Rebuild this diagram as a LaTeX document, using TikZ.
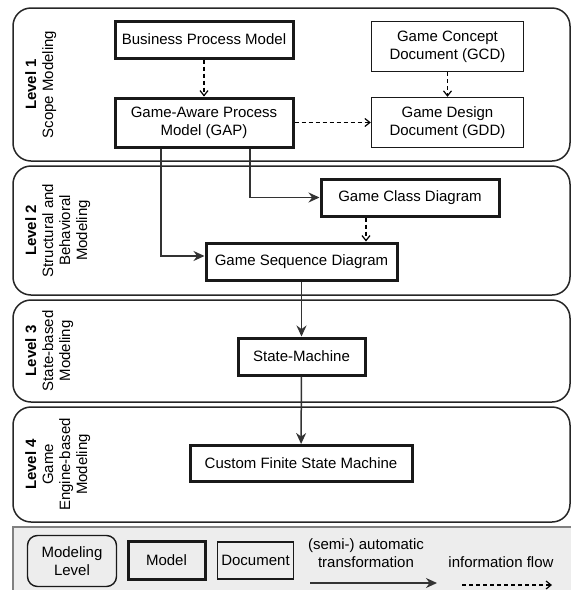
\documentclass[tikz,border=0pt]{standalone}
\usepackage{fontspec}
\setmainfont{Liberation Sans}
\usetikzlibrary{arrows.meta}
\tikzset{level/.style={draw=black!85, line width=1.5pt, rounded corners=18pt},
levellabel/.style={rotate=90, anchor=north, align=center, inner sep=0pt, font=\fontsize{15}{17}\selectfont},
model/.style={draw=black!90, line width=3pt, align=center, inner sep=0pt},
document/.style={draw=black!90, line width=1.4pt, align=center, inner sep=0pt},
trans/.style={draw=black!80, line width=1.5pt, -{Stealth[length=11pt,width=10pt]}},
info/.style={draw=black, line width=1.2pt, dash pattern=on 4pt off 3pt, -{Straight Barb[length=5pt,width=8pt]}},
legendbg/.style={fill=black!7, draw=black!50, line width=1.2pt}}

\begin{document}
\begin{tikzpicture}[x=1pt, y=-1pt, font=\fontsize{15}{18}\selectfont]
    \useasboundingbox (0,0) rectangle (571,590);

    % modeling levels
    \draw[level] (13,8) rectangle (570,161);
    \draw[level] (13,166) rectangle (570,295);
    \draw[level] (13,300) rectangle (570,402);
    \draw[level] (13,407) rectangle (570,522);

    \node[levellabel] (lab1) at (25,84.5) {\textbf{Level 1}\\Scope Modeling};
    \node[levellabel] (lab2) at (25,230.5) {\textbf{Level 2}\\Structural and\\Behavioral\\Modeling};
    \node[levellabel] (lab3) at (25,351) {\textbf{Level 3}\\State-based\\Modeling};
    \node[levellabel] (lab4) at (25,464.5) {\textbf{Level 4}\\Game\\Engine-based\\Modeling};

    % models and documents
    \node[model, minimum width=178pt, minimum height=37pt] (bpm) at (204,39.5) {Business Process Model};
    \node[model, minimum width=178pt, minimum height=49pt] (gap) at (204,122.5) {Game-Aware Process\\Model (GAP)};
    \node[document, minimum width=152pt, minimum height=50pt] (gcd) at (447.5,46.5) {Game Concept\\Document (GCD)};
    \node[document, minimum width=152pt, minimum height=50pt] (gdd) at (447.5,122.5) {Game Design\\Document (GDD)};
    \node[model, minimum width=178pt, minimum height=37pt] (gcl) at (410,197.5) {Game Class Diagram};
    \node[model, minimum width=191pt, minimum height=37pt] (gsd) at (301.5,261.5) {Game Sequence Diagram};
    \node[model, minimum width=127pt, minimum height=37pt] (stm) at (301.5,356.5) {State-Machine};
    \node[model, minimum width=222pt, minimum height=36pt] (cfsm) at (301,463.5) {Custom Finite State Machine};

    \draw[info] (bpm) -- (gap);
    \draw[info] (gcd) -- (gdd);
    \draw[info] (gap) -- (gdd);
    \draw[trans] ([xshift=-43pt]gap.south) |- ([yshift=5.5pt]gsd.west);
    \draw[trans] ([xshift=46pt]gap.south) |- (gcl.west);
    \draw[info] ([xshift=-44pt]gcl.south) -- ([xshift=64.5pt]gsd.north);
    \draw[trans] (gsd) -- (stm);
    \draw[trans] (stm) -- (cfsm);

    % legend
    \path[legendbg] (13,527) rectangle (573,592);
    \node[draw=black!90, line width=1.4pt, rounded corners=10pt, align=center, inner sep=0pt,
          minimum width=89pt, minimum height=51pt] (lglevel) at (72,561) {Modeling\\Level};
    \node[model, minimum width=77pt, minimum height=38pt] (lgmodel) at (166.5,560) {Model};
    \node[document, minimum width=76pt, minimum height=37pt] (lgdoc) at (255.5,560.5) {Document};
    \node[align=center, inner sep=0pt] (lgtrans) at (366,553) {(semi-) automatic\\transformation};
    \node[inner sep=0pt] (lginfo) at (501,562) {information flow};
    \coordinate (t1) at (310,583);
    \coordinate (t2) at (437,583);
    \coordinate (i1) at (462,585);
    \coordinate (i2) at (552,585);
    \draw[trans] (t1) -- (t2);
    \draw[info] (i1) -- (i2);

  \end{tikzpicture}
\end{document}
